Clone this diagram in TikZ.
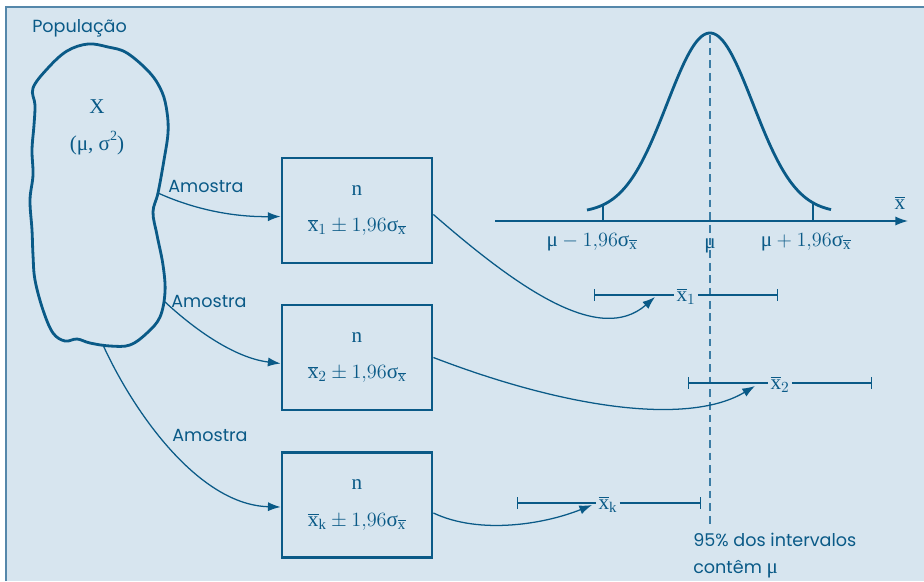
\documentclass[tikz,border=0pt]{standalone}
\usepackage{fontspec}
\setmainfont{Liberation Serif}
\newfontfamily\labelfont{Poppins}
\usepackage{xcolor}
\usepackage{tikz}
\usetikzlibrary{arrows.meta, positioning}

\definecolor{fundoazul}{RGB}{215,229,239}
\definecolor{tinta}{RGB}{10,90,135}
\definecolor{borda}{RGB}{85,135,170}
\definecolor{tracejado}{RGB}{60,125,165}

\newcommand{\xb}{\overline{\mathrm{x}}}
\newcommand{\sg}{\mbox{σ}}

\begin{document}
\begin{tikzpicture}[x=0.025cm, y=-0.025cm,
    >={Latex[length=9pt, width=6.5pt]},
    seta/.style={->, draw=tinta, line width=0.9pt},
    caixa/.style={draw=tinta, line width=2pt, minimum width=3.75cm, minimum height=2.625cm,
                  align=center, text=tinta, inner sep=0pt, font=\fontsize{15}{17}\selectfont},
    rotulo/.style={text=tinta, inner sep=0pt, font=\labelfont\fontsize{12.5}{19}\selectfont},
    formula/.style={text=tinta, inner sep=1.5pt, font=\fontsize{15}{17}\selectfont},
    intervalo/.style={draw=tinta, line width=1pt},
    barra/.tip={Bar[width=8pt]}]

    % =================================================================
    % 1. FUNDO E MOLDURA
    % =================================================================
    \useasboundingbox (0,0) rectangle (924,581);
    \fill[fundoazul] (6,7) rectangle (924,581);
    \draw[borda, line width=1.2pt] (6,581) -- (6,7) -- (924,7);

    % =================================================================
    % 2. POPULACAO (CONTORNO IRREGULAR)
    % =================================================================
    \node[rotulo, anchor=west] (pop) at (32,28) {População};
    \draw[tinta, line width=2pt] plot[smooth cycle, tension=0.6] coordinates {
        (88,44) (108,47) (127,53) (150,73) (162,92) (167,112) (168,133) (164,160)
        (158,193) (153,212) (157,235) (163,265) (165,292) (160,317) (147,333)
        (130,345) (110,346) (90,343) (77,339) (65,341) (53,333) (43,310) (35,280)
        (33,255) (32,230) (30,200) (33,175) (32,150) (34,125) (35,105) (33,88)
        (48,68) (67,51)};
    \node[formula] (varX) at (97,107) {X};
    \node[formula] (param) at (97,143) {(μ, σ\raisebox{0.45em}{\fontsize{10}{10}\selectfont 2})};

    % pontos de saida das amostras
    \coordinate (s1) at (158,193);
    \coordinate (s2) at (164,301);
    \coordinate (s3) at (103,345);

    % =================================================================
    % 3. CAIXAS DAS AMOSTRAS
    % =================================================================
    \node[caixa] (cx1) at (357,210.5) {$\mathrm{n}$\\[9pt]$\xb_{1} \pm 1{,}96\sg_{\xb}$};
    \node[caixa] (cx2) at (357,357.5) {$\mathrm{n}$\\[9pt]$\xb_{2} \pm 1{,}96\sg_{\xb}$};
    \node[caixa] (cx3) at (357,505) {$\mathrm{n}$\\[9pt]$\xb_{\mathrm{k}} \pm 1{,}96\sg_{\xb}$};

    % setas populacao -> caixas
    \draw[seta] (s1) .. controls (200,212) and (240,217) .. ([yshift=-0.15cm]cx1.west);
    \draw[seta] (s2) .. controls (195,330) and (235,358) .. ([yshift=-0.15cm]cx2.west);
    \draw[seta] (s3) .. controls (135,415) and (200,505) .. ([yshift=-0.05cm]cx3.west);
    \node[rotulo] (am1) at (206,186) {Amostra};
    \node[rotulo] (am2) at (209,301) {Amostra};
    \node[rotulo] (am3) at (210,435) {Amostra};

    % =================================================================
    % 4. CURVA NORMAL E EIXO
    % =================================================================
    \coordinate (eixoI) at (495,221);
    \coordinate (eixoF) at (908,221);
    \coordinate (pico) at (710,35);
    \draw[->, tinta, line width=1pt] (eixoI) -- (eixoF);
    \node[formula] (xeixo) at (900,203) {$\xb$};
    \draw[tinta, line width=2pt] plot[domain=587:831, samples=120]
        (\x, {213 - 180*exp(-(\x-710)*(\x-710)/3698)});
    \draw[tinta, line width=1pt] (603,221) -- (603,205);
    \draw[tinta, line width=1pt] (813,221) -- (813,203);
    \node[formula] (lim1) at (592,242) {$\mbox{μ} - 1{,}96\sg_{\xb}$};
    \node[formula] (media) at (710,246) {μ};
    \node[formula] (lim2) at (806,242) {$\mbox{μ} + 1{,}96\sg_{\xb}$};

    % linha tracejada da media
    \draw[tracejado, line width=1.3pt, dash pattern=on 5.5pt off 3.5pt] (pico) -- (710,528);

    % =================================================================
    % 5. INTERVALOS DE CONFIANCA
    % =================================================================
    \node[formula, anchor=base] (m1) at (686,301) {$\xb_{1}$};
    \node[formula, anchor=base] (m2) at (780,389) {$\xb_{2}$};
    \node[formula, anchor=base] (mk) at (608,509) {$\xb_{\mathrm{k}}$};
    \coordinate (e1) at (594,295); \coordinate (d1) at (778,295);
    \coordinate (e2) at (688,383); \coordinate (d2) at (872,383);
    \coordinate (ek) at (517,503); \coordinate (dk) at (701,503);
    \draw[intervalo, barra-] (e1) -- (e1 -| m1.west);
    \draw[intervalo, -barra] (m1.east |- d1) -- (d1);
    \draw[intervalo, barra-] (e2) -- (e2 -| m2.west);
    \draw[intervalo, -barra] (m2.east |- d2) -- (d2);
    \draw[intervalo, barra-] (ek) -- (ek -| mk.west);
    \draw[intervalo, -barra] (mk.east |- dk) -- (dk);

    % setas caixas -> intervalos
    \coordinate (a1) at (655,297);
    \coordinate (a2) at (755,386);
    \coordinate (ak) at (592,505);
    \draw[seta] ([yshift=-0.1cm]cx1.east) .. controls (520,290) and (600,345) .. (a1);
    \draw[seta] (cx2.east) .. controls (570,410) and (690,425) .. (a2);
    \draw[seta] ([yshift=-0.2cm]cx3.east) .. controls (480,535) and (545,524) .. (ak);

    % nota final
    \node[rotulo, align=left, anchor=north west] (nota) at (693,533)
        {95\% dos intervalos\\contêm {\rmfamily\fontsize{15}{19}\selectfont μ}};

\end{tikzpicture}
\end{document}
